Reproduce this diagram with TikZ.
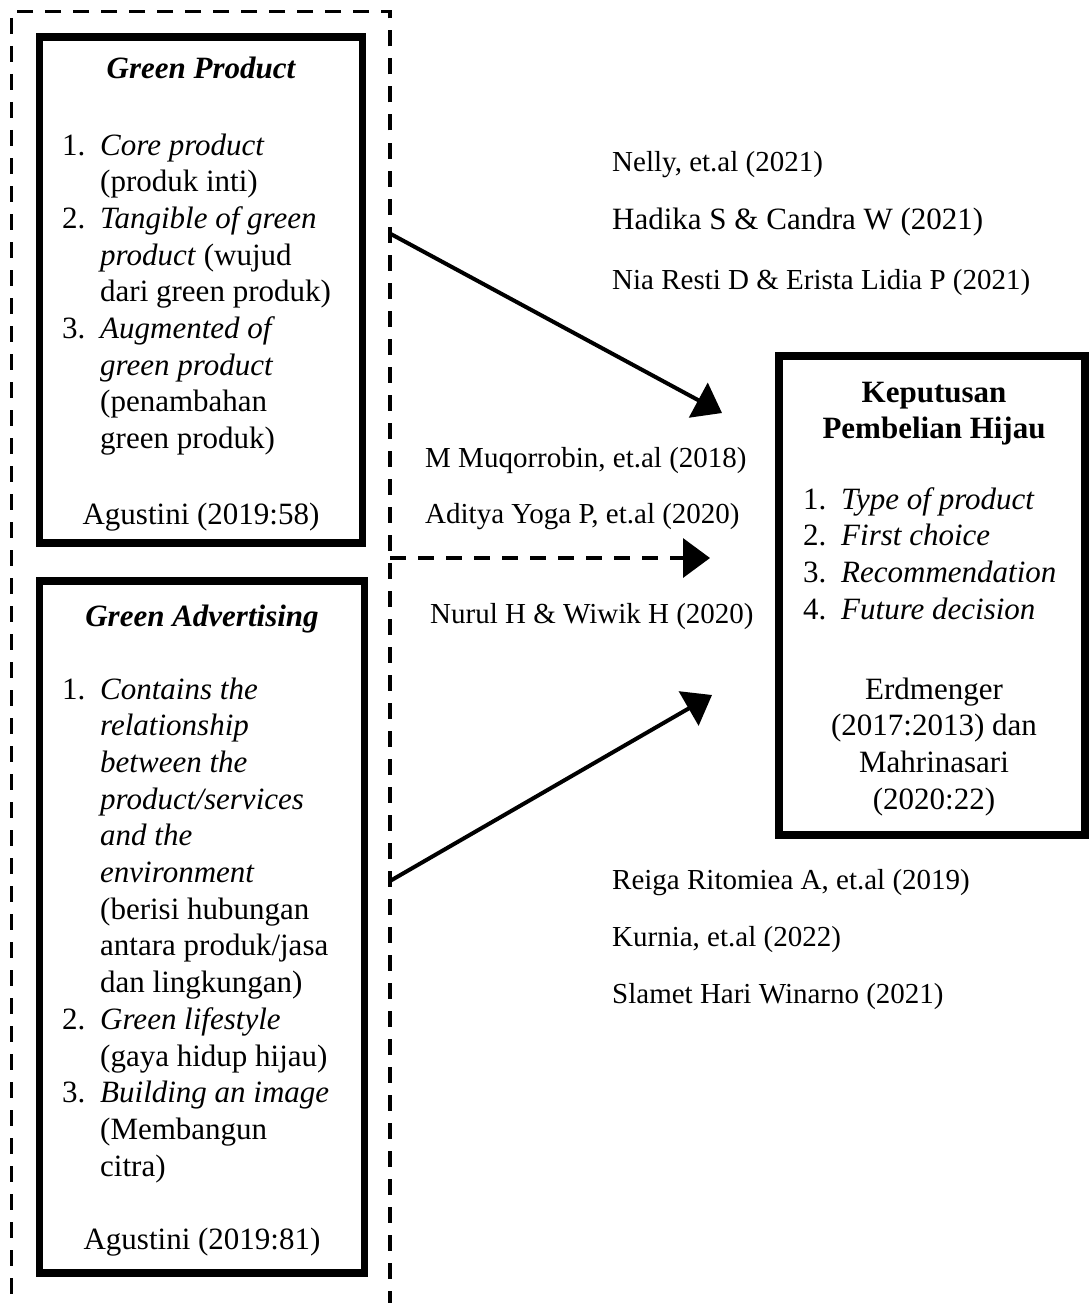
\documentclass[tikz,border=0pt]{standalone}
\usepackage{fontspec}
\setmainfont{Liberation Serif}
\usetikzlibrary{arrows.meta}

\tikzset{
	thickbox/.style={draw, line width=7.5pt, inner sep=0pt},
	frameline/.style={draw, line width=3.5pt, dash pattern=on 16pt off 12pt, inner sep=0pt},
	link/.style={line width=4pt, -{Triangle[length=27pt,width=39pt]}},
	boxtext/.style={inner sep=0pt, font=\fontsize{31}{36.7}\selectfont},
	reftext/.style={inner sep=0pt, anchor=base west, font=\fontsize{29}{34}\selectfont},
}

\begin{document}
\begin{tikzpicture}[x=1pt, y=-1pt]
	\useasboundingbox (0,0) rectangle (1088,1303);

	% dashed frame round the two variables
	\node[frameline, minimum width=378.5, minimum height=1308.5] (frame) at (200.75,665.75) {};

	% boxes
	\node[thickbox, minimum width=323, minimum height=506] (gp) at (201,290) {};
	\node[thickbox, minimum width=325, minimum height=692] (ga) at (202,927) {};
	\node[thickbox, minimum width=306, minimum height=479] (kph) at (932,595.5) {};

	% Green Product
	\node[boxtext, anchor=base, font=\fontsize{31}{36.7}\selectfont\bfseries\itshape] (gptitle) at (201,79) {Green Product};
	\node[boxtext, anchor=base west] (gplist) at (62,155) {\begin{tabular}[t]{@{}p{38pt}@{}l@{}}
		1. & \textit{Core product}\\
		   & (produk inti)\\
		2. & \textit{Tangible of green}\\
		   & \textit{product} (wujud\\
		   & dari green produk)\\
		3. & \textit{Augmented of}\\
		   & \textit{green product}\\
		   & (penambahan\\
		   & green produk)
	\end{tabular}};
	\node[boxtext, anchor=base] (gpref) at (201,524) {Agustini (2019:58)};

	% Green Advertising
	\node[boxtext, anchor=base, font=\fontsize{31}{36.7}\selectfont\bfseries\itshape] (gatitle) at (202,626) {Green Advertising};
	\node[boxtext, anchor=base west] (galist) at (62,699) {\begin{tabular}[t]{@{}p{38pt}@{}l@{}}
		1. & \textit{Contains the}\\
		   & \textit{relationship}\\
		   & \textit{between the}\\
		   & \textit{product/services}\\
		   & \textit{and the}\\
		   & \textit{environment}\\
		   & (berisi hubungan\\
		   & antara produk/jasa\\
		   & dan lingkungan)\\
		2. & \textit{Green lifestyle}\\
		   & (gaya hidup hijau)\\
		3. & \textit{Building an image}\\
		   & (Membangun\\
		   & citra)
	\end{tabular}};
	\node[boxtext, anchor=base] (garef) at (202,1249) {Agustini (2019:81)};

	% Keputusan Pembelian Hijau
	\node[boxtext, anchor=base, font=\fontsize{31}{36.7}\selectfont\bfseries] (kphtitle) at (934,402) {\begin{tabular}[t]{@{}c@{}}
		Keputusan\\
		Pembelian Hijau
	\end{tabular}};
	\node[boxtext, anchor=base west] (kphlist) at (803,509) {\begin{tabular}[t]{@{}p{38pt}@{}l@{}}
		1. & \textit{Type of product}\\
		2. & \textit{First choice}\\
		3. & \textit{Recommendation}\\
		4. & \textit{Future decision}
	\end{tabular}};
	\node[boxtext, anchor=base] (kphref) at (934,699) {\begin{tabular}[t]{@{}c@{}}
		Erdmenger\\
		(2017:2013) dan\\
		Mahrinasari\\
		(2020:22)
	\end{tabular}};

	% arrow ends
	\coordinate (gpout) at (389,233);
	\coordinate (gpin) at (722,413);
	\coordinate (frameout) at (390,558);
	\coordinate (framein) at (710,558);
	\coordinate (gaout) at (390,881);
	\coordinate (gain) at (712,695);

	\draw[link] (gpout) -- (gpin);
	\draw[link, dash pattern=on 16pt off 12pt, line width=3.5pt] (frameout) -- (framein);
	\draw[link] (gaout) -- (gain);

	% references
	\node[reftext] (nelly) at (612,171) {Nelly, et.al (2021)};
	\node[reftext, font=\fontsize{31}{36}\selectfont] (hadika) at (612,229) {Hadika S \& Candra W (2021)};
	\node[reftext] (nia) at (612,289) {Nia Resti D \& Erista Lidia P (2021)};
	\node[reftext] (muqorrobin) at (425,467) {M Muqorrobin, et.al (2018)};
	\node[reftext] (aditya) at (425,523) {Aditya Yoga P, et.al (2020)};
	\node[reftext] (nurul) at (430,623) {Nurul H \& Wiwik H (2020)};
	\node[reftext] (reiga) at (612,889) {Reiga Ritomiea A, et.al (2019)};
	\node[reftext] (kurnia) at (612,946) {Kurnia, et.al (2022)};
	\node[reftext] (slamet) at (612,1003) {Slamet Hari Winarno (2021)};
\end{tikzpicture}
\end{document}
